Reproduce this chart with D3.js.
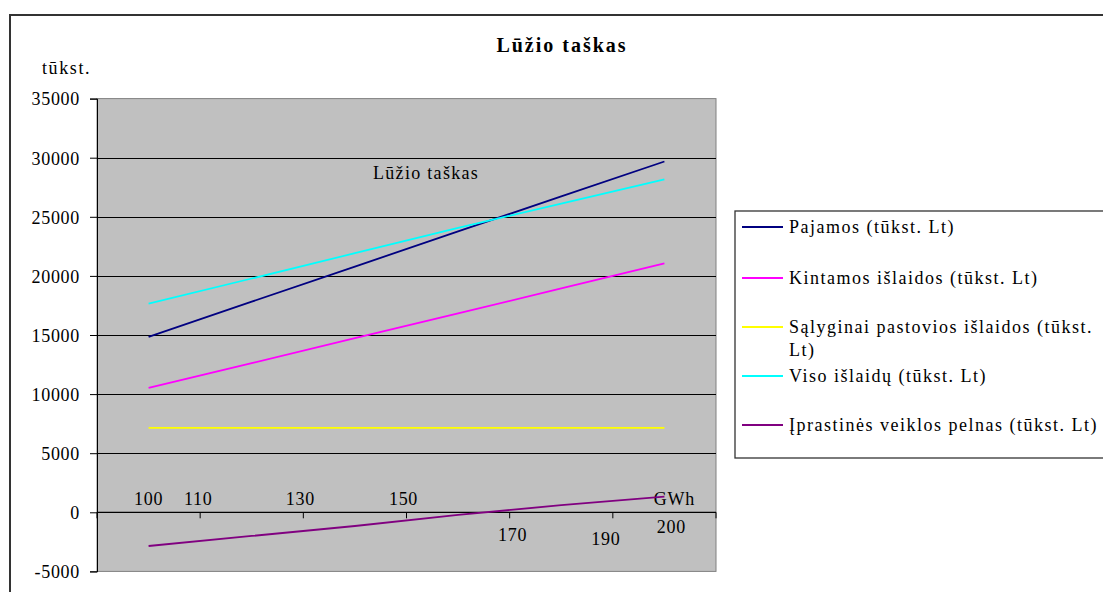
<!DOCTYPE html>
<html>
<head>
<meta charset="utf-8">
<script src="https://cdn.jsdelivr.net/npm/d3@7"></script>
<style>
  html, body { margin: 0; padding: 0; background: #fff; }
  svg { display: block; font-family: "Liberation Serif", "Times New Roman", serif; }
</style>
</head>
<body>
<svg id="chart" width="1103" height="592"></svg>
<script>
// Production volume, GWh
const categories = [100, 120, 140, 160, 180, 200];

// Series values, thousand Lt
const pajamos   = [14850, 17820, 20790, 23760, 26730, 29680];
const kintamos  = [10520, 12620, 14730, 16830, 18940, 21050];
const pastovios = [7150, 7150, 7150, 7150, 7150, 7150];
const viso      = [17650, 19780, 21920, 24060, 26120, 28170];
const pelnas    = [-2850, -2000, -1160, -220, 600, 1320];

// Axis text
const yTicks = [-5000, 0, 5000, 10000, 15000, 20000, 25000, 30000, 35000];
const boundaryLabels = ["110", "130", "150", "170", "190"];
const firstLabel = "100";
const lastLabel = "200";
const unitLabel = "GWh";
const yUnit = "tūkst.";
const title = "Lūžio taškas";
const noteLabel = "Lūžio taškas";

const seriesNames = [
  "Pajamos (tūkst. Lt)",
  "Kintamos išlaidos (tūkst. Lt)",
  "Sąlyginai pastovios išlaidos (tūkst. Lt)",
  "Viso išlaidų (tūkst. Lt)",
  "Įprastinės veiklos pelnas (tūkst. Lt)"
];
const seriesColors = ["#000080", "#ff00ff", "#ffff00", "#00ffff", "#800080"];
const seriesValues = [pajamos, kintamos, pastovios, viso, pelnas];

const svg = d3.select("#chart");

// outer chart frame
svg.append("rect")
  .attr("x", 10).attr("y", 15).attr("width", 1110).attr("height", 620)
  .attr("fill", "#fff").attr("stroke", "#333").attr("stroke-width", 2);

const plot = { left: 97, right: 716, top: 98.6, bottom: 571.4 };

const x = d3.scaleBand().domain(categories).range([plot.left, plot.right]).padding(0);
const xc = c => x(c) + x.bandwidth() / 2;
const y = d3.scaleLinear().domain([-5000, 35000]).range([plot.bottom, plot.top]);

// plot area
svg.append("rect")
  .attr("x", plot.left).attr("y", plot.top)
  .attr("width", plot.right - plot.left).attr("height", plot.bottom - plot.top)
  .attr("fill", "#c0c0c0").attr("stroke", "#808080").attr("stroke-width", 1);

// horizontal gridlines
svg.append("g")
  .selectAll("line")
  .data(yTicks.filter(v => v > -5000 && v < 35000 && v !== 0))
  .join("line")
  .attr("x1", plot.left).attr("x2", plot.right)
  .attr("y1", d => Math.round(y(d)) + 0.5).attr("y2", d => Math.round(y(d)) + 0.5)
  .attr("stroke", "#000").attr("stroke-width", 1);

// value axis (plain hyphen for negatives)
const yAxis = d3.axisLeft(y).tickValues(yTicks).tickSize(7).tickPadding(10).tickFormat(d => String(d));
const gy = svg.append("g")
  .attr("transform", `translate(${plot.left},0)`)
  .call(yAxis);
gy.select(".domain").attr("stroke", "#000");
gy.selectAll(".tick line").attr("stroke", "#000");
gy.selectAll(".tick text")
  .attr("font-family", "Liberation Serif")
  .attr("font-size", 18)
  .attr("letter-spacing", "0.7px")
  .attr("fill", "#000")
  .attr("dy", "0.35em");

// category axis crossing at zero
const y0 = y(0);
const boundaries = categories.slice(1).map(c => x(c));
const gx = svg.append("g");
gx.append("line")
  .attr("x1", plot.left).attr("x2", plot.right)
  .attr("y1", y0).attr("y2", y0)
  .attr("stroke", "#000").attr("stroke-width", 1.2);
gx.selectAll("line.tick")
  .data([plot.left, ...boundaries, plot.right])
  .join("line")
  .attr("class", "tick")
  .attr("x1", d => d).attr("x2", d => d)
  .attr("y1", y0).attr("y2", y0 + 6)
  .attr("stroke", "#000");

// axis text placed above/below the axis line
const axisText = [
  { t: firstLabel, x: xc(categories[0]), dy: -7 },
  { t: boundaryLabels[0], x: boundaries[0] - 2, dy: -7 },
  { t: boundaryLabels[1], x: boundaries[1] - 3, dy: -7 },
  { t: boundaryLabels[2], x: boundaries[2] - 3, dy: -7 },
  { t: boundaryLabels[3], x: boundaries[3] + 3, dy: 29 },
  { t: boundaryLabels[4], x: boundaries[4] - 7, dy: 33 },
  { t: lastLabel, x: xc(categories[5]) + 7, dy: 21 },
  { t: unitLabel, x: xc(categories[5]) + 10, dy: -7 }
];
gx.selectAll("text")
  .data(axisText)
  .join("text")
  .attr("x", d => d.x).attr("y", d => y0 + d.dy)
  .attr("text-anchor", "middle")
  .attr("font-size", 18)
  .attr("letter-spacing", "0.7px")
  .text(d => d.t);

// series lines
const line = d3.line().x((d, i) => xc(categories[i])).y(d => y(d));
svg.append("g")
  .selectAll("path")
  .data(seriesValues)
  .join("path")
  .attr("d", d => line(d))
  .attr("fill", "none")
  .attr("stroke", (d, i) => seriesColors[i])
  .attr("stroke-width", 1.8);

// titles
svg.append("text")
  .attr("x", 562).attr("y", 52)
  .attr("text-anchor", "middle")
  .attr("font-size", 20).attr("font-weight", "bold")
  .attr("letter-spacing", "2px")
  .text(title);

svg.append("text")
  .attr("x", 42).attr("y", 74)
  .attr("font-size", 18)
  .attr("letter-spacing", "1.6px")
  .text(yUnit);

svg.append("text")
  .attr("x", 373).attr("y", 179)
  .attr("font-size", 18)
  .attr("letter-spacing", "1.3px")
  .text(noteLabel);

// legend
const legend = svg.append("g");
legend.append("rect")
  .attr("x", 735).attr("y", 211).attr("width", 400).attr("height", 247)
  .attr("fill", "#fff").attr("stroke", "#333").attr("stroke-width", 1.3);

const legendRows = [
  { lines: [seriesNames[0]], cy: 227 },
  { lines: [seriesNames[1]], cy: 278 },
  { lines: ["Sąlyginai pastovios išlaidos (tūkst.", "Lt)"], cy: 327 },
  { lines: [seriesNames[3]], cy: 376 },
  { lines: [seriesNames[4]], cy: 425 }
];
const items = legend.selectAll("g.item")
  .data(legendRows)
  .join("g")
  .attr("class", "item");
items.append("line")
  .attr("x1", 742).attr("x2", 783)
  .attr("y1", d => d.cy).attr("y2", d => d.cy)
  .attr("stroke", (d, i) => seriesColors[i])
  .attr("stroke-width", 1.8);
items.each(function (d) {
  const t = d3.select(this).append("text")
    .attr("x", 789).attr("y", d.cy + 6)
    .attr("font-size", 18)
    .attr("letter-spacing", "1.5px");
  d.lines.forEach((s, k) => {
    t.append("tspan").attr("x", 789).attr("dy", k === 0 ? 0 : 23).text(s);
  });
});
</script>
</body>
</html>
